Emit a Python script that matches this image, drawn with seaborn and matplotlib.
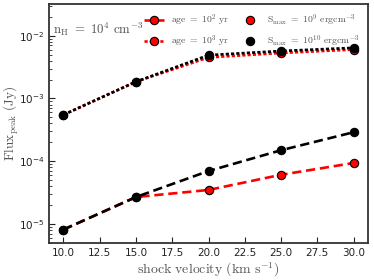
import numpy as np
import pandas as pd
import matplotlib
matplotlib.use("Agg")
import matplotlib.pyplot as plt
from matplotlib.lines import Line2D
import seaborn as sns

# shock velocity (km/s)
velocity = [10, 15, 20, 25, 30]

# peak flux (Jy)
flux_age2_s9 = [8.2e-6, 2.7e-5, 3.5e-5, 6.1e-5, 9.4e-5]
flux_age2_s10 = [8.2e-6, 2.7e-5, 7.0e-5, 1.5e-4, 2.9e-4]
flux_age3_s9 = [5.5e-4, 1.85e-3, 4.5e-3, 5.3e-3, 6.0e-3]
flux_age3_s10 = [5.5e-4, 1.85e-3, 4.9e-3, 5.7e-3, 6.4e-3]

sns.set_style("ticks")
plt.rcParams['font.family'] = ['DejaVu Sans']
plt.rcParams['mathtext.fontset'] = 'cm'

fig, ax = plt.subplots(figsize=(3.74, 2.8), dpi=100)
fig.subplots_adjust(left=0.131, right=0.984, bottom=0.132, top=0.986)

long_dash = (3.5, 1.8)
short_dash = (1.2, 0.8)
ms = 6

series = [
    (flux_age2_s9, 'red', long_dash),
    (flux_age3_s9, 'red', short_dash),
    (flux_age2_s10, 'black', long_dash),
    (flux_age3_s10, 'black', short_dash),
]
for vals, col, dash in series:
    df = pd.DataFrame({'v': velocity, 'f': vals})
    sns.lineplot(data=df, x='v', y='f', ax=ax, color=col, lw=1.9,
                 marker='o', markersize=ms, markerfacecolor=col,
                 markeredgecolor='black', markeredgewidth=0.8,
                 dashes=False, linestyle=(0, dash))

ax.set_yscale('log')
ax.set_ylim(5e-6, 3.2e-2)
ax.set_xlim(9.0, 31.0)
ax.set_xticks([10, 12.5, 15, 17.5, 20, 22.5, 25, 27.5, 30])
ax.set_xticklabels(['10.0', '12.5', '15.0', '17.5', '20.0', '22.5', '25.0', '27.5', '30.0'])
ax.tick_params(direction='in', labelsize=7.5, colors='#222222', length=4, width=0.8)
ax.tick_params(which='minor', direction='in', length=2, width=0.6)

ax.set_xlabel(r'$\mathrm{shock\ velocity\ (km\ s^{-1})}$', fontsize=10, color='#555555', labelpad=2)
ax.set_ylabel(r'$\mathrm{Flux_{peak}\ (Jy)}$', fontsize=9.5, color='#555555')
ax.yaxis.set_label_coords(-0.088, 0.5)

for sp in ax.spines.values():
    sp.set_color('#333333')
    sp.set_linewidth(1.3)

ax.text(0.012, 0.895, r'$\mathrm{n_H}\ =\ 10^4\ \mathrm{cm^{-3}}$', transform=ax.transAxes,
        fontsize=9.3, color='#555555', va='center')

handles = [
    Line2D([], [], color='red', lw=1.9, linestyle=(0, long_dash), marker='o', markersize=ms,
           markerfacecolor='red', markeredgecolor='black', markeredgewidth=0.8),
    Line2D([], [], color='red', lw=1.9, linestyle=(0, short_dash), marker='o', markersize=ms,
           markerfacecolor='red', markeredgecolor='black', markeredgewidth=0.8),
    Line2D([], [], lw=0, marker='o', markersize=ms,
           markerfacecolor='red', markeredgecolor='black', markeredgewidth=0.8),
    Line2D([], [], lw=0, marker='o', markersize=ms,
           markerfacecolor='black', markeredgecolor='black', markeredgewidth=0.8),
]
labels = [
    r'$\mathrm{age\ =\ 10^2\ yr}$',
    r'$\mathrm{age\ =\ 10^3\ yr}$',
    r'$\mathrm{S_{max}\ =\ 10^9\ ergcm^{-3}}$',
    r'$\mathrm{S_{max}\ =\ 10^{10}\ ergcm^{-3}}$',
]
leg = ax.legend(handles, labels, ncol=2, frameon=False, fontsize=7, loc='upper right',
                bbox_to_anchor=(1.0, 1.0), handlelength=2.0, columnspacing=1.2,
                handletextpad=0.7, labelspacing=0.55, borderaxespad=0.5)
for t in leg.get_texts():
    t.set_color('#555555')

fig.savefig('out.png', dpi=100)
